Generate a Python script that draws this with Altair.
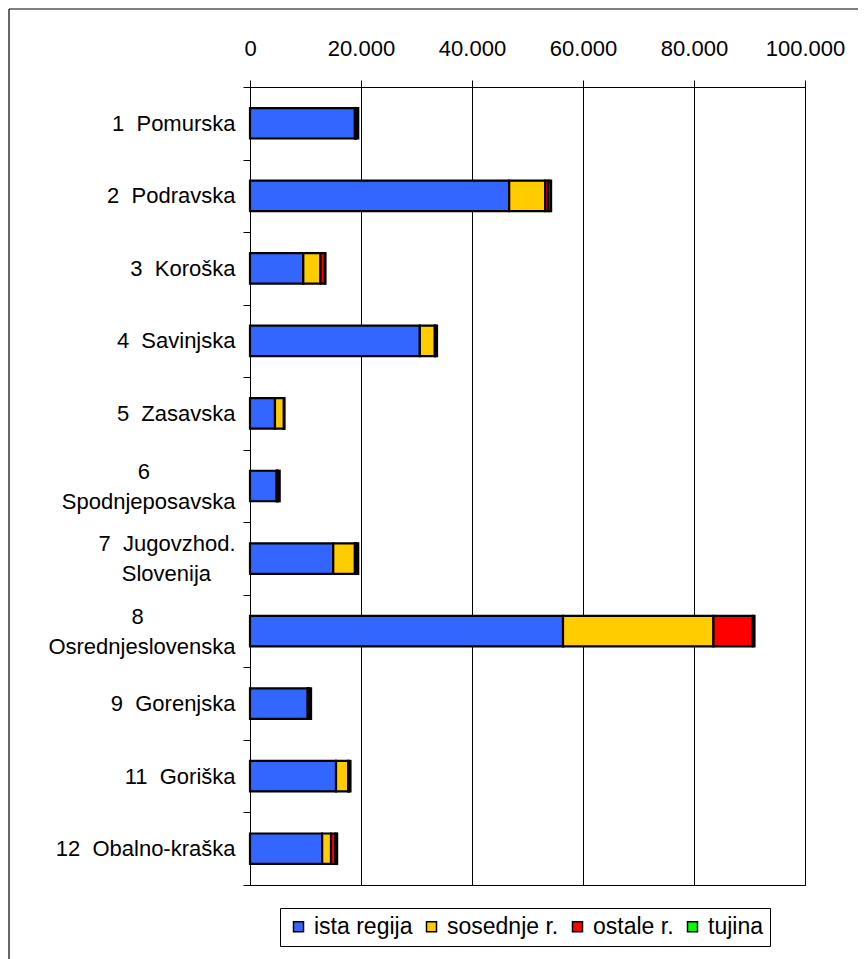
import altair as alt
import pandas as pd

NB = "\u00a0"
Z = "\u200b"
regions = [
    "1" + NB + " Pomurska",
    "2" + NB + " Podravska",
    "3" + NB + " Koroška",
    "4" + NB + " Savinjska",
    "5" + NB + " Zasavska",
    Z + NB * 13 + "6" + NB * 14 + Z + "|Spodnjeposavska",
    Z + "7" + NB + " Jugovzhod." + Z + "|Slovenija" + NB * 4 + Z,
    Z + NB * 14 + "8" + NB * 15 + Z + "|Osrednjeslovenska",
    "9" + NB + " Gorenjska",
    "11" + NB + " Goriška",
    "12" + NB + " Obalno-kraška",
]
series = ["ista regija", "sosednje r.", "ostale r.", "tujina"]
colors = ["#3366FF", "#FFCC00", "#FF0000", "#00FF00"]

ista_regija = [18900, 46700, 9600, 30600, 4500, 4800, 15000, 56400, 10400, 15500, 13000]
sosednje_r = [100, 6500, 3100, 2700, 1600, 100, 3900, 27100, 100, 2200, 1600]
ostale_r = [100, 600, 800, 100, 50, 100, 200, 7100, 100, 100, 800]
tujina = [400, 450, 100, 300, 50, 350, 400, 300, 400, 300, 300]

x_ticks = [0, 20000, 40000, 60000, 80000, 100000]

rows = []
for i, r in enumerate(regions):
    for j, (s, vals) in enumerate(zip(series, [ista_regija, sosednje_r, ostale_r, tujina])):
        rows.append({"region": r, "series": s, "order": j, "value": vals[i]})
df = pd.DataFrame(rows)

FONT = "Liberation Sans"

bars = alt.Chart(df).mark_bar(
    stroke="black", strokeWidth=2.2, height=alt.RelativeBandSize(band=0.42)
).encode(
    y=alt.Y(
        "region:N",
        sort=regions,
        title=None,
        scale=alt.Scale(paddingInner=0, paddingOuter=0),
        axis=alt.Axis(
            tickBand="extent",
            labelExpr="split(datum.label, '|')",
            labelFontSize=22,
            labelFont=FONT,
            labelColor="black",
            labelLimit=400,
            labelPadding=8,
            labelLineHeight=30,
            labelOffset={"condition": {"test": "indexof(datum.label, '|') >= 0", "value": -15}, "value": 0},
            tickSize=7,
            tickColor="black",
            domainColor="black",
            ticks=True,
            grid=False,
        ),
    ),
    x=alt.X(
        "value:Q",
        stack="zero",
        title=None,
        scale=alt.Scale(domain=[0, 100000], nice=False),
        axis=alt.Axis(
            orient="top",
            values=x_ticks,
            labelExpr="replace(format(datum.value, ',d'), ',', '.')",
            labelFontSize=22,
            labelFont=FONT,
            labelColor="black",
            labelPadding=20,
            labelFlush=False,
            labelOverlap=False,
            tickSize=7,
            tickColor="black",
            domainColor="black",
            grid=True,
            gridColor="black",
            gridOpacity=1,
            gridWidth=1,
        ),
    ),
    color=alt.Color(
        "series:N",
        sort=series,
        scale=alt.Scale(domain=series, range=colors),
        legend=alt.Legend(
            title=None,
            orient="none",
            legendX=30,
            legendY=821,
            direction="horizontal",
            columns=4,
            symbolType="square",
            symbolSize=100,
            symbolStrokeColor="black",
            symbolStrokeWidth=1.5,
            symbolOpacity=1,
            labelFontSize=23,
            labelFont=FONT,
            labelColor="black",
            labelOffset=4,
            columnPadding=7,
            padding=7,
            strokeColor="black",
            fillColor="white",
            labelLimit=300,
        ),
    ),
    order=alt.Order("order:Q"),
)

border_data = alt.Data(values=[{}])
left_border = alt.Chart(border_data).mark_rule(color="black", strokeWidth=1.2, clip=False).encode(
    x=alt.value(-241), y=alt.value(-78), y2=alt.value(880)
)
top_border = alt.Chart(border_data).mark_rule(color="black", strokeWidth=1.2, clip=False).encode(
    x=alt.value(-241), x2=alt.value(620), y=alt.value(-78)
)

chart = alt.layer(bars, left_border, top_border).properties(
    width=555,
    height=798,
    autosize=alt.AutoSizeParams(type="none"),
    padding={"left": 242, "top": 79, "right": 53, "bottom": 74},
    background="white",
).configure_view(stroke="black", strokeWidth=1)

chart.save("out.html", embed_options={"renderer": "svg", "actions": False})
